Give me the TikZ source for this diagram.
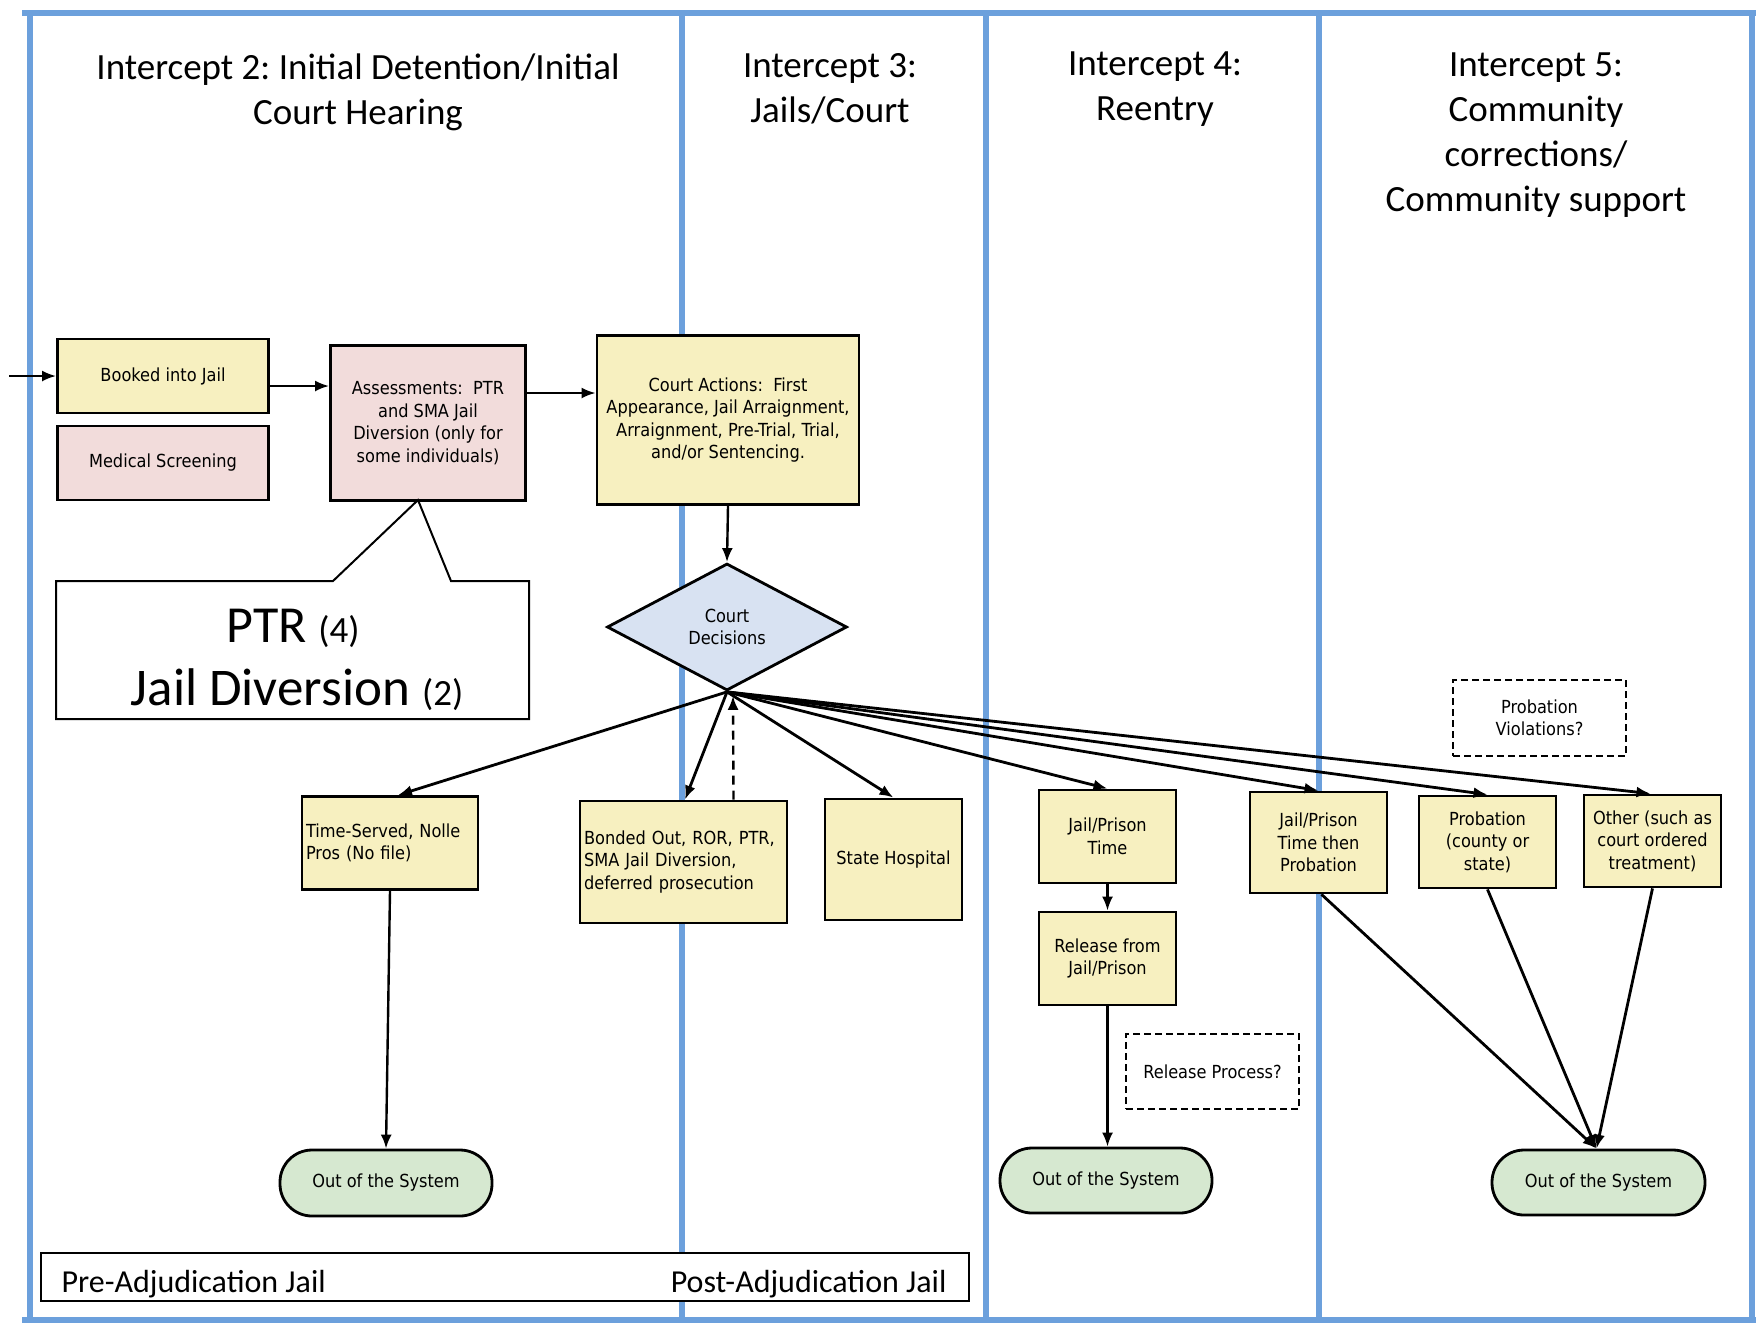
\documentclass[tikz,border=0pt]{standalone}
\usepackage{fontspec}
\setmainfont{Carlito}
\newfontfamily\boxfont[FakeStretch=0.9]{DejaVu Sans}
\usetikzlibrary{shapes.geometric,arrows.meta,calc}
\frenchspacing
\definecolor{laneblue}{HTML}{6CA0DC}
\definecolor{byellow}{HTML}{F7F0C0}
\definecolor{bpink}{HTML}{F2DCDB}
\definecolor{bblue}{HTML}{D8E2F2}
\definecolor{bgreen}{HTML}{D6E8D0}
\tikzset{
  lane/.style={draw=laneblue, line width=6pt},
  title/.style={align=center, font=\fontsize{37}{45}\selectfont},
  basebox/.style={draw=black, line width=2.8pt, align=center, inner sep=4pt,
    font=\boxfont\fontsize{18}{22.5}\selectfont},
  ybox/.style={basebox, fill=byellow},
  pbox/.style={basebox, fill=bpink},
  dbox/.style={basebox, draw, dash pattern=on 7pt off 4pt, line width=2.2pt, fill=white},
  decision/.style={basebox, diamond, fill=bblue, inner sep=0pt},
  outbox/.style={basebox, fill=bgreen, rounded corners=32pt},
  conn/.style={line width=2.8pt, -{Latex[length=14pt,width=11pt]}},
  thin conn/.style={line width=2.4pt, -{Latex[length=14pt,width=11pt]}}
}
\begin{document}
\begin{tikzpicture}[x=1pt,y=-1pt]
\path[use as bounding box, fill=white] (0,0) rectangle (1756,1323);

% swimlane frame
\draw[lane] (22,13) -- (1756,13);
\draw[lane] (22,1320) -- (1756,1320);
\draw[lane] (30,10) -- (30,1323);
\draw[lane] (682,10) -- (682,1323);
\draw[lane] (986,10) -- (986,1323);
\draw[lane] (1319,10) -- (1319,1323);
\draw[lane] (1752,10) -- (1752,1323);

% titles
\node[title] (t2) at (358,92) {Intercept 2: Initial Detention/Initial\\Court Hearing};
\node[title] (t3) at (830,89) {Intercept 3:\\Jails/Court};
\node[title] (t4) at (1155,89) {Intercept 4:\\Reentry};
\node[title] (t5) at (1536,135) {Intercept 5:\\Community\\corrections/\\Community support};

% boxes
\node[ybox, minimum width=211pt, minimum height=74pt] (book) at (163,376) {Booked into Jail};
\node[pbox, minimum width=211pt, minimum height=74pt] (med) at (163,463) {Medical Screening};
\node[pbox, minimum width=195pt, minimum height=155pt] (ass) at (428,423)
  {Assessments:\ \ PTR\\and SMA Jail\\Diversion (only for\\some individuals)};
\node[ybox, minimum width=262pt, minimum height=169pt] (court) at (728,420)
  {Court Actions:\ \ First\\Appearance, Jail Arraignment,\\Arraignment, Pre-Trial, Trial,\\and/or Sentencing.};
\node[decision, minimum width=240pt, minimum height=127pt] (dec) at (727,627) {Court\\Decisions};

\node[ybox, minimum width=176pt, minimum height=93pt, text width=168pt, align=left, inner sep=4pt] (ts) at (390,843)
  {Time-Served, Nolle\\Pros (No file)};
\node[ybox, minimum width=207pt, minimum height=122pt, text width=199pt, align=left, inner sep=4pt] (bond) at (683.5,862)
  {Bonded Out, ROR, PTR,\\SMA Jail Diversion,\\deferred prosecution};
\node[ybox, minimum width=137pt, minimum height=121pt] (sh) at (893.5,859.5) {State Hospital};
\node[ybox, minimum width=137pt, minimum height=93pt] (jpt) at (1107.5,836.5) {Jail/Prison\\Time};
\node[ybox, minimum width=137pt, minimum height=93pt] (rel) at (1107.5,958.5) {Release from\\Jail/Prison};
\node[ybox, minimum width=137pt, minimum height=101pt] (jptp) at (1318.5,842.5) {Jail/Prison\\Time then\\Probation};
\node[ybox, minimum width=137pt, minimum height=92pt] (prob) at (1487.5,842) {Probation\\(county or\\state)};
\node[ybox, minimum width=137pt, minimum height=92pt] (other) at (1652.5,841) {Other (such as\\court ordered\\treatment)};

\node[dbox, minimum width=173pt, minimum height=75pt] (relp) at (1212.5,1071.5) {Release Process?};
\node[dbox, minimum width=173pt, minimum height=76pt] (pviol) at (1539.5,718) {Probation\\Violations?};

\node[outbox, minimum width=212pt, minimum height=66pt] (out1) at (386,1183) {Out of the System};
\node[outbox, minimum width=212pt, minimum height=65pt] (out2) at (1106,1180.5) {Out of the System};
\node[outbox, minimum width=213pt, minimum height=65pt] (out3) at (1598.5,1182.5) {Out of the System};

% callout
\draw[line width=2pt, fill=white] (56,581) -- (333,581) -- (418,500) -- (451,581) -- (529,581)
  -- (529,719) -- (56,719) -- cycle;
\node[font=\fontsize{52}{60}\selectfont] (ptr) at (293,628) {PTR \fontsize{37}{40}\selectfont(4)};
\node[font=\fontsize{53}{60}\selectfont] (jd) at (297,690) {Jail Diversion \fontsize{37}{40}\selectfont(2)};

% bottom bar
\node[draw=black, line width=2pt, fill=white, minimum width=928pt, minimum height=48pt] (bar) at (505,1277) {};
\node[font=\fontsize{32}{38}\selectfont, anchor=west] (pre) at (58,1284) {Pre-Adjudication Jail};
\node[font=\fontsize{32}{38}\selectfont, anchor=east] (post) at (950,1284) {Post-Adjudication Jail};

% connectors
\coordinate (inl) at (9,376);
\draw[thin conn] (inl) -- (book.west);
\draw[thin conn] ([yshift=-10pt]book.east) -- ([yshift=-10pt]book.east -| ass.west);
\draw[thin conn] ([yshift=30pt]ass.east) -- ([yshift=30pt]ass.east -| court.west);
\draw[thin conn] (court.south) -- (dec.north);

\draw[conn] (dec.south) -- ([xshift=8pt]ts.north);
\draw[conn] (dec.south) -- ([xshift=1.5pt]bond.north);
\draw[line width=2.4pt, dash pattern=on 9pt off 6pt, -{Latex[length=14pt,width=11pt]}] ([xshift=50pt]bond.north) -- ([xshift=6pt,yshift=-4pt]dec.south);
\draw[conn] (dec.south) -- (sh.north);
\draw[conn] (dec.south) -- (jpt.north);
\draw[conn] (dec.south) -- (jptp.north);
\draw[conn] (dec.south) -- (prob.north);
\draw[conn] (dec.south) -- ([xshift=-2pt]other.north);

\draw[thin conn] (ts.south) -- (out1.north);
\draw[thin conn] (jpt.south) -- (rel.north);
\draw[thin conn] (rel.south) -- (rel.south |- out2.north);
\draw[conn] ([xshift=3pt]jptp.south) -- ([xshift=-2pt]out3.north);
\draw[conn] (prob.south) -- ([xshift=-2pt]out3.north);
\draw[conn] (other.south) -- ([xshift=-2pt]out3.north);
\end{tikzpicture}
\end{document}
